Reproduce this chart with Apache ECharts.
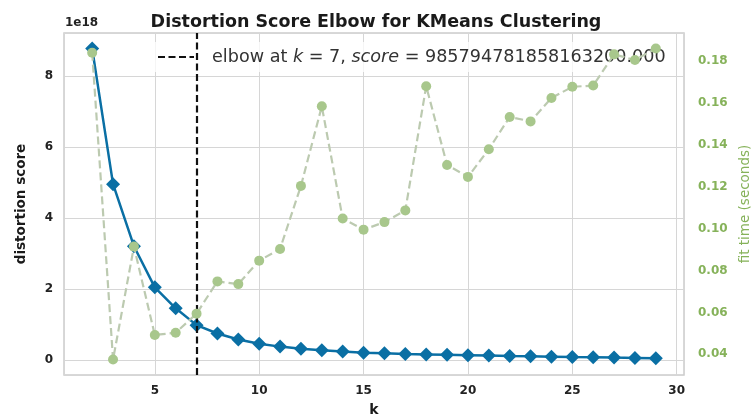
<!DOCTYPE html>
<html>
<head>
<meta charset="utf-8">
<script src="https://cdn.jsdelivr.net/npm/echarts@6/dist/echarts.min.js"></script>
<style>
  html, body { margin: 0; padding: 0; background: #fff; }
  #chart { width: 752px; height: 418px; }
</style>
</head>
<body>
<div id="chart"></div>
<script>
// Number of clusters tried
const kValues = [2, 3, 4, 5, 6, 7, 8, 9, 10, 11, 12, 13, 14, 15, 16, 17, 18, 19, 20, 21, 22, 23, 24, 25, 26, 27, 28, 29];

// Sum of squared distances for each k
const distortion = [
  8.78e18, 4.96e18, 3.21e18, 2.05e18, 1.46e18, 985794781858163200, 0.75e18, 0.58e18,
  0.46e18, 0.38e18, 0.32e18, 0.28e18, 0.24e18, 0.21e18, 0.19e18, 0.17e18,
  0.16e18, 0.15e18, 0.14e18, 0.13e18, 0.115e18, 0.105e18, 0.095e18, 0.085e18,
  0.08e18, 0.07e18, 0.062e18, 0.055e18
];

// Seconds spent fitting each model
const fitTime = [
  0.184, 0.0375, 0.0914, 0.0492, 0.0503, 0.0594, 0.0748, 0.0735,
  0.0847, 0.0903, 0.1204, 0.1584, 0.1048, 0.0995, 0.1031, 0.1087,
  0.168, 0.1304, 0.1247, 0.1379, 0.1533, 0.1512, 0.1624, 0.1677,
  0.1683, 0.1832, 0.1805, 0.186
];

const elbowK = 7;
const elbowScore = 985794781858163200;
const scoreScale = 1e18;

const dejavu = '"DejaVu Sans", Verdana, sans-serif';
const timeColor = '#86b25a';

function isMultiple(v, step) {
  const q = v / step;
  return Math.abs(q - Math.round(q)) < 1e-6;
}

const chart = echarts.init(document.getElementById('chart'), null, { renderer: 'canvas' });

chart.setOption({
  animation: false,
  backgroundColor: '#ffffff',
  title: {
    text: 'Distortion Score Elbow for KMeans Clustering',
    left: 'center',
    top: 8,
    textStyle: { fontFamily: dejavu, fontWeight: 'bold', fontSize: 17.5, color: '#1a1a1a' }
  },
  graphic: [{
    type: 'text',
    left: 65,
    top: 17,
    style: { text: '1e18', font: 'bold 12px "DejaVu Sans", Verdana, sans-serif', fill: '#222' }
  }],
  grid: {
    left: 64, right: 68, top: 33, bottom: 43,
    outerBoundsMode: 'none',
    containLabel: false,
    show: true, borderColor: '#cccccc', borderWidth: 1.5, backgroundColor: 'transparent'
  },
  legend: {
    data: [{ name: 'elbow', itemStyle: { opacity: 0 } }],
    left: 147,
    top: 42,
    z: 4,
    padding: [6, 10, 6, 10],
    itemWidth: 36,
    itemHeight: 14,
    backgroundColor: 'rgba(255,255,255,0.75)',
    borderRadius: 4,
    formatter: () => 'elbow at {i|k} = ' + elbowK + ', {i|score} = ' + elbowScore.toFixed(3),
    textStyle: {
      fontFamily: dejavu,
      fontSize: 17.6,
      color: '#333',
      padding: [0, 0, 0, 13],
      rich: {
        i: { fontFamily: dejavu, fontStyle: 'italic', fontSize: 17.6, color: '#333' }
      }
    }
  },
  xAxis: {
    type: 'value',
    min: 0.65,
    max: 30.35,
    minInterval: 5,
    maxInterval: 5,
    name: 'k',
    nameLocation: 'middle',
    nameGap: 28,
    nameTextStyle: { fontFamily: dejavu, fontWeight: 'bold', fontSize: 14, color: '#1a1a1a' },
    axisLine: { show: false },
    axisTick: { show: false },
    splitLine: { show: true, lineStyle: { color: '#d6d6d6', width: 1 } },
    axisLabel: {
      margin: 10,
      fontFamily: dejavu, fontWeight: 'bold', fontSize: 12, color: '#222',
      formatter: v => isMultiple(v, 5) ? String(Math.round(v)) : ''
    }
  },
  yAxis: [{
    type: 'value',
    position: 'left',
    min: -0.42,
    max: 9.22,
    minInterval: 2,
    maxInterval: 2,
    name: 'distortion score',
    nameLocation: 'middle',
    nameGap: 36,
    nameRotate: 90,
    nameTextStyle: { fontFamily: dejavu, fontWeight: 'bold', fontSize: 13.5, color: '#1a1a1a' },
    axisLine: { show: false },
    axisTick: { show: false },
    splitLine: { show: true, lineStyle: { color: '#d6d6d6', width: 1 } },
    axisLabel: {
      margin: 11,
      fontFamily: dejavu, fontWeight: 'bold', fontSize: 12, color: '#222',
      formatter: v => isMultiple(v, 2) ? String(Math.round(v)) : ''
    }
  }, {
    type: 'value',
    position: 'right',
    min: 0.0301,
    max: 0.1934,
    minInterval: 0.02,
    maxInterval: 0.02,
    name: 'fit time (seconds)',
    nameLocation: 'middle',
    nameGap: 49,
    nameRotate: 90,
    nameTextStyle: { fontFamily: dejavu, fontSize: 13.5, color: timeColor },
    axisLine: { show: false },
    axisTick: { show: false },
    splitLine: { show: false },
    axisLabel: {
      margin: 14,
      fontFamily: dejavu, fontWeight: 'bold', fontSize: 12, color: timeColor,
      formatter: v => isMultiple(v, 0.02) ? v.toFixed(2) : ''
    }
  }],
  series: [{
    name: 'distortion score',
    type: 'line',
    yAxisIndex: 0,
    z: 2,
    data: kValues.map((k, i) => [k, distortion[i] / scoreScale]),
    symbol: 'diamond',
    symbolSize: 14,
    itemStyle: { color: '#0a6fa4' },
    lineStyle: { color: '#0a6fa4', width: 2.5 }
  }, {
    name: 'elbow',
    type: 'line',
    yAxisIndex: 0,
    z: 3,
    data: [],
    symbol: 'none',
    itemStyle: { color: '#111', opacity: 0 },
    lineStyle: { color: '#111', width: 2.2, type: [7, 3.5] },
    markLine: {
      silent: true,
      symbol: 'none',
      label: { show: false },
      lineStyle: { color: '#111', width: 2.2, type: [7, 3.5], opacity: 1 },
      data: [{ xAxis: elbowK }]
    }
  }, {
    name: 'fit time',
    type: 'line',
    yAxisIndex: 1,
    z: 6,
    data: kValues.map((k, i) => [k, fitTime[i]]),
    symbol: 'circle',
    symbolSize: 10,
    itemStyle: { color: '#a8c78c' },
    lineStyle: { color: '#bccab0', width: 2.2, type: [8, 4] }
  }]
});
</script>
</body>
</html>
